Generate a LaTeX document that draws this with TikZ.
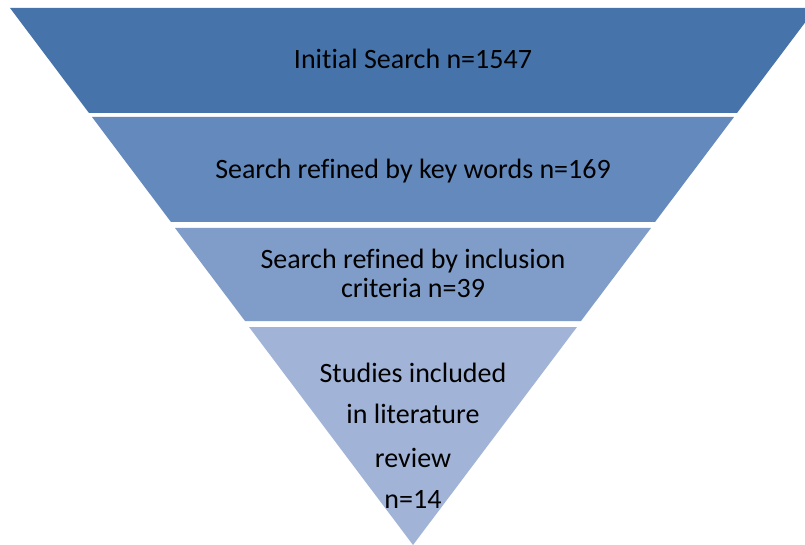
\documentclass[tikz,border=0pt]{standalone}
\usepackage{fontspec}
\setmainfont{Carlito}[RawFeature=-liga]
\definecolor{bandA}{HTML}{4674AA}
\definecolor{bandB}{HTML}{6389BD}
\definecolor{bandC}{HTML}{7F9DC8}
\definecolor{bandD}{HTML}{A1B4D7}
\tikzset{
  bandtext/.style={anchor=base, inner sep=0pt, text=black, font=\fontsize{28}{30}\selectfont},
}
\begin{document}
\begin{tikzpicture}[x=1pt,y=-1pt]
\useasboundingbox (0,0) rectangle (805,545);
\clip (0,0) rectangle (805,545);
\fill[white] (0,0) rectangle (805,545);
% bands: half width = 0.75*(545-y), centre x=413
\fill[bandA] (10,8) -- (816,8) -- (737,113) -- (89,113) -- cycle;
\fill[bandB] (92,117) -- (734,117) -- (655,222) -- (171,222) -- cycle;
\fill[bandC] (175,228) -- (651,228) -- (581,321) -- (245,321) -- cycle;
\fill[bandD] (249,327) -- (577,327) -- (413,545) -- cycle;
\node[bandtext] (t1) at (413,69) {Initial Search n=1547};
\node[bandtext] (t2) at (413,179) {Search refined by key words n=169};
\node[bandtext] (t3a) at (413,268) {Search refined by inclusion};
\node[bandtext] (t3b) at (413,297) {criteria n=39};
\node[bandtext] (t4a) at (413,382) {Studies included};
\node[bandtext] (t4b) at (413,423) {in literature};
\node[bandtext] (t4c) at (413,467) {review};
\node[bandtext] (t4d) at (413,508) {n=14};
\end{tikzpicture}
\end{document}
